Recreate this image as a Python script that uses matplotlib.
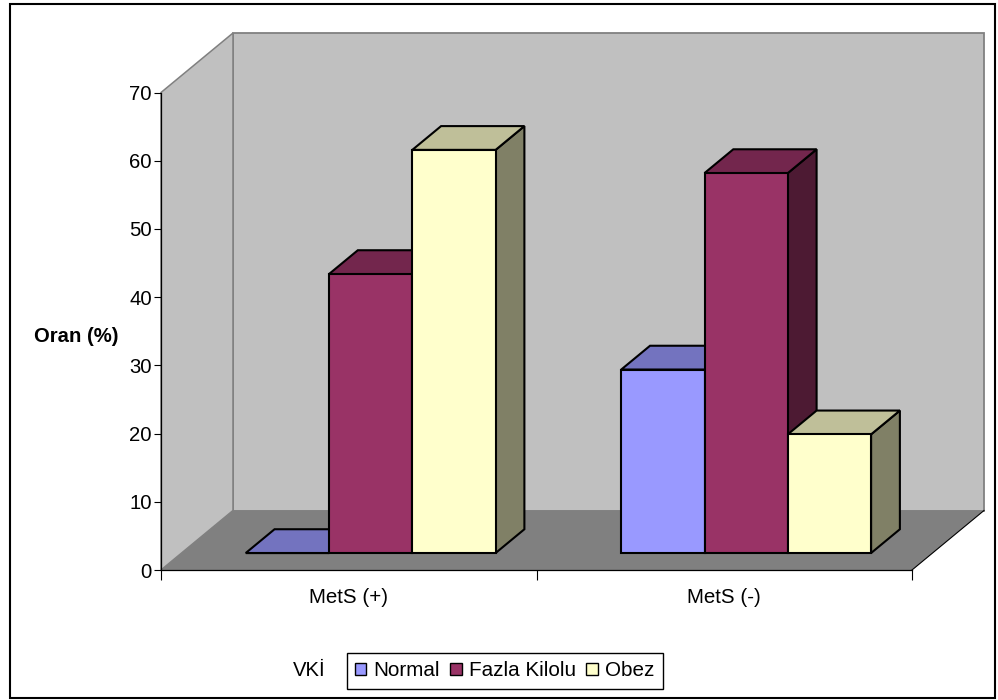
import matplotlib
matplotlib.use("Agg")
import matplotlib.pyplot as plt
from matplotlib.patches import Patch, Polygon, Rectangle

plt.rcParams["font.family"] = ["Liberation Sans", "DejaVu Sans"]

categories = ["MetS (+)", "MetS (-)"]
series_names = ["Normal", "Fazla Kilolu", "Obez"]
normal = [0, 26.9]
fazla_kilolu = [40.9, 55.7]
obez = [59.1, 17.4]
y_ticks = [0, 10, 20, 30, 40, 50, 60, 70]

front_colors = ["#9999FF", "#993366", "#FFFFCC"]
top_colors = ["#7373BF", "#73264D", "#BFBF99"]
side_colors = ["#4D4D80", "#4D1A33", "#808066"]

W, H = 998, 700
fig = plt.figure(figsize=(W / 100, H / 100), dpi=100, facecolor="white")

# front plane of the box
left, right, bottom, top = 161, 912, 570, 92.5
ax = fig.add_axes([left / W, 1 - bottom / H, (right - left) / W, (bottom - top) / H])
ax.set_xlim(0, 2)
ax.set_ylim(0, 70)
ax.patch.set_visible(False)

# depth of the box, in data units
depth_x = 72 / (right - left) * 2
depth_y = 59.5 / (bottom - top) * 70


def proj(x, v, d):
    return (x + d * depth_x, v + d * depth_y)


def poly(points, face, edge, lw, z):
    ax.add_patch(Polygon(points, closed=True, facecolor=face, edgecolor=edge,
                         linewidth=lw, joinstyle="miter", clip_on=False, zorder=z))


# walls and floor
poly([proj(0, 0, 1), proj(2, 0, 1), proj(2, 70, 1), proj(0, 70, 1)], "#C0C0C0", "#808080", 1.3, 1)
poly([proj(0, 0, 0), proj(0, 0, 1), proj(0, 70, 1), proj(0, 70, 0)], "#C0C0C0", "#808080", 1.1, 1)
poly([proj(0, 0, 0), proj(2, 0, 0), proj(2, 0, 1), proj(0, 0, 1)], "#808080", "none", 0, 2)
ax.plot(*zip(proj(2, 0, 0), proj(2, 0, 1)), color="black", lw=0.8, clip_on=False, zorder=3)

# bars
bar_width = 0.2218
d0, d1 = 0.285, 0.685


def draw_bar(x, value, s):
    poly([proj(x + bar_width, 0, d0), proj(x + bar_width, 0, d1),
          proj(x + bar_width, value, d1), proj(x + bar_width, value, d0)],
         side_colors[s], "black", 1.5, 5)
    poly([proj(x, value, d0), proj(x + bar_width, value, d0),
          proj(x + bar_width, value, d1), proj(x, value, d1)],
         top_colors[s], "black", 1.5, 5)
    poly([proj(x, 0, d0), proj(x + bar_width, 0, d0),
          proj(x + bar_width, value, d0), proj(x, value, d0)],
         front_colors[s], "black", 1.5, 6)


for c in range(len(categories)):
    for s, values in enumerate([normal, fazla_kilolu, obez]):
        draw_bar(c + 0.171 + s * bar_width, values[c], s)

# axes
for name in ["top", "right"]:
    ax.spines[name].set_visible(False)
for name in ["left", "bottom"]:
    ax.spines[name].set_linewidth(0.9)
    ax.spines[name].set_zorder(4)
ax.set_yticks(y_ticks)
ax.set_xticks([0, 1, 2])
ax.set_xticklabels([])
ax.tick_params(axis="both", direction="out", length=5, width=0.8, labelsize=14.6, pad=1.5)
ax.tick_params(axis="x", length=7)
for c, name in enumerate(categories):
    ax.annotate(name, (c + 0.5, 0), xytext=(0, -20), textcoords="offset points",
                ha="center", va="center", fontsize=14.8, annotation_clip=False)
fig.text(76 / W, 1 - 336 / H, "Oran (%)", fontsize=14.6, fontweight="bold",
         ha="center", va="center")

# legend
handles = [Patch(facecolor=col, edgecolor="black", linewidth=1.0) for col in front_colors]
leg = fig.legend(handles, series_names, ncol=3, loc="center",
                 bbox_to_anchor=(504.5 / W, 1 - 671 / H), fontsize=14.9,
                 frameon=True, fancybox=False, edgecolor="black", framealpha=1,
                 handlelength=0.55, handleheight=0.55, handletextpad=0.35,
                 columnspacing=0.5, borderpad=0.4, borderaxespad=0)
leg.get_frame().set_linewidth(1.0)
fig.text(326 / W, 1 - 671 / H, "VKİ", fontsize=14.6, ha="right", va="center")

# outer border
fig.add_artist(Rectangle((9.5 / W, 1 - 698 / H), 985 / W, 694 / H, transform=fig.transFigure,
                         facecolor="none", edgecolor="black", linewidth=1.5))

fig.savefig("out.png", dpi=100)
